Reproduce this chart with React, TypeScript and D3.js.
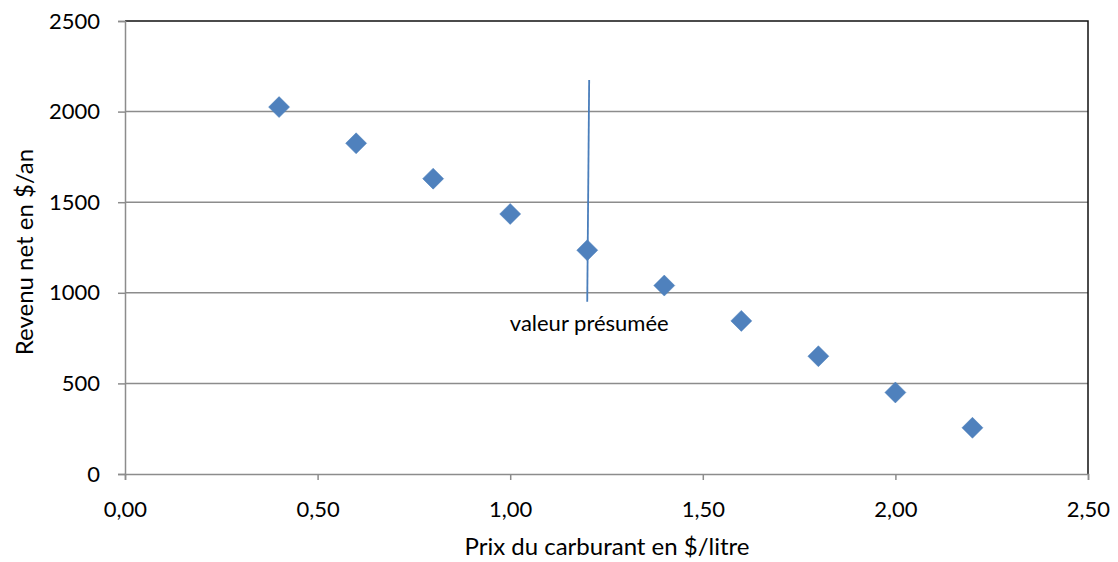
import { useEffect, useRef } from "react"
import * as d3 from "d3"

// prix du carburant ($/litre) et revenu net ($/an)
const prix = [0.4, 0.6, 0.8, 1.0, 1.2, 1.4, 1.6, 1.8, 2.0, 2.2]
const revenu = [2025, 1825, 1630, 1435, 1235, 1040, 845, 650, 450, 255]
// trait vertical "valeur présumée"
const traitX = [1.2, 1.205]
const traitY = [950, 2175]
const xTicks = [0, 0.5, 1, 1.5, 2, 2.5]
const yTicks = [0, 500, 1000, 1500, 2000, 2500]

const W = 1118, H = 562
const margin = { top: 21, right: 30, bottom: 88, left: 125 }
const font = "Lato, 'Open Sans', sans-serif"

const App = () => {
    const ref = useRef<SVGSVGElement>(null)

    useEffect(() => {
        const svg = d3.select(ref.current)
        svg.selectAll("*").remove()
        const width = W - margin.left - margin.right
        const height = H - margin.top - margin.bottom

        const x = d3.scaleLinear().domain([0, 2.5]).range([0, width])
        const y = d3.scaleLinear().domain([0, 2500]).range([height, 0])

        const g = svg.append("g")
            .attr("transform", "translate(" + margin.left + "," + margin.top + ")")

        // grille horizontale
        g.selectAll(".grid")
            .data(yTicks.slice(1, -1))
            .enter()
            .append("line")
            .attr("x1", 0)
            .attr("x2", width)
            .attr("y1", d => y(d))
            .attr("y2", d => y(d))
            .attr("stroke", "#8c8c8c")
            .attr("stroke-width", 1.5)

        // bord haut et droit
        g.append("path")
            .attr("d", `M0,${y(2500)}H${width}V${height}`)
            .attr("fill", "none")
            .attr("stroke", "#111")
            .attr("stroke-width", 1.5)

        // axe Y
        const yAxis = g.append("g")
            .call(d3.axisLeft(y).tickValues(yTicks).tickSize(7).tickFormat(d => String(d)))
        yAxis.select(".domain").attr("stroke", "#8c8c8c").attr("stroke-width", 1.5)
        yAxis.selectAll(".tick line").attr("stroke", "#8c8c8c").attr("stroke-width", 1.5)
        yAxis.selectAll(".tick text")
            .attr("x", -25)
            .style("font-family", font)
            .style("font-size", "22px")
            .attr("fill", "#000")

        // axe X
        const xAxis = g.append("g")
            .attr("transform", "translate(0," + height + ")")
            .call(d3.axisBottom(x).tickValues(xTicks).tickSize(6)
                .tickFormat(d => (d as number).toFixed(2).replace(".", ",")))
        xAxis.select(".domain").attr("stroke", "#8c8c8c").attr("stroke-width", 1.5)
        xAxis.selectAll(".tick line").attr("stroke", "#8c8c8c").attr("stroke-width", 1.5)
        xAxis.selectAll(".tick text")
            .attr("y", 43)
            .attr("dy", "0")
            .style("font-family", font)
            .style("font-size", "22px")
            .attr("fill", "#000")

        // trait vertical
        g.append("line")
            .attr("x1", x(traitX[0]))
            .attr("y1", y(traitY[0]))
            .attr("x2", x(traitX[1]))
            .attr("y2", y(traitY[1]))
            .attr("stroke", "#4a7ebb")
            .attr("stroke-width", 1.8)

        g.append("text")
            .attr("x", x(traitX[0]) + 2)
            .attr("y", y(traitY[0]) + 29)
            .attr("text-anchor", "middle")
            .style("font-family", font)
            .style("font-size", "22px")
            .text("valeur présumée")

        // points
        const s = 10.5
        g.selectAll(".pt")
            .data(prix)
            .enter()
            .append("path")
            .attr("d", (d, i) => {
                const cx = x(d), cy = y(revenu[i])
                return `M${cx},${cy - s}L${cx + s},${cy}L${cx},${cy + s}L${cx - s},${cy}Z`
            })
            .attr("fill", "#4f81bd")
            .attr("stroke", "#4a7ebb")
            .attr("stroke-width", 0.5)

        // titres
        svg.append("text")
            .attr("transform", `translate(33,252) rotate(-90)`)
            .attr("text-anchor", "middle")
            .style("font-family", font)
            .style("font-size", "24px")
            .text("Revenu net en $/an")

        svg.append("text")
            .attr("x", 607)
            .attr("y", 555)
            .attr("text-anchor", "middle")
            .style("font-family", font)
            .style("font-size", "24px")
            .text("Prix du carburant en $/litre")
    }, [])

    return <svg ref={ref} width={W} height={H} style={{ position: "absolute", left: 0, top: 0 }} />
}

export default App
